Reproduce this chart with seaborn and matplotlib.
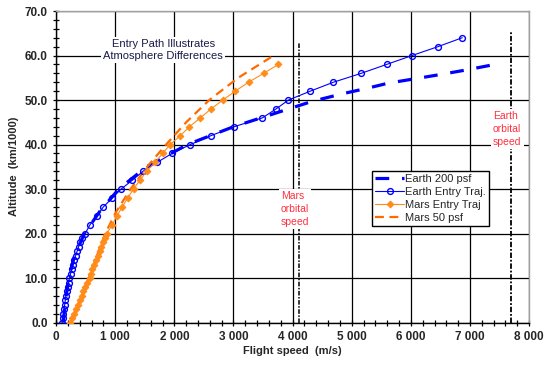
import matplotlib
matplotlib.use("Agg")
import matplotlib.pyplot as plt
import matplotlib.ticker as mticker
import seaborn as sns
import pandas as pd

# Earth entry trajectory (altitude km, speed m/s)
earth_traj_alt = list(range(0, 21)) + list(range(22, 65, 2))
earth_traj_speed = [100, 115, 125, 135, 145, 155, 165, 180, 195, 210, 225, 245, 265, 285,
                    305, 330, 355, 380, 410, 440, 490,
                    575, 690, 800, 950, 1100, 1290, 1470, 1710, 1960, 2270, 2620, 3010,
                    3490, 3720, 3930, 4300, 4690, 5160, 5590, 6020, 6460, 6870]

# Earth constant dynamic pressure 200 psf
earth_q_alt = [0, 5, 10, 15, 20, 25, 30, 35, 40, 44, 47.6, 49.7, 51.4, 52.7, 53.8, 54.9, 55.8, 56.8, 58.1]
earth_q_speed = [120, 160, 215, 310, 480, 740, 1060, 1530, 2220, 3000, 3840, 4330, 4840,
                 5280, 5620, 6125, 6530, 6955, 7460]

# Mars entry trajectory
mars_traj_alt = list(range(0, 21)) + list(range(22, 59, 2))
mars_traj_speed = [240, 270, 300, 335, 370, 400, 430, 460, 490, 520, 565, 590, 615, 645,
                   675, 705, 735, 765, 795, 825, 860,
                   950, 1030, 1120, 1210, 1310, 1420, 1530, 1675, 1800, 1930, 2100, 2255,
                   2440, 2620, 2820, 3030, 3255, 3510, 3760]

# Mars constant dynamic pressure 50 psf
mars_q_alt = [0, 5, 10, 15, 20, 25, 30, 35, 40, 45, 50, 55, 60]
mars_q_speed = [250, 400, 550, 690, 830, 1020, 1260, 1540, 1860, 2200, 2590, 3080, 3680]

mars_orbital = 4100
earth_orbital = 7700

sns.set_style("white")
plt.rcParams["font.family"] = ["Liberation Sans", "DejaVu Sans"]

fig = plt.figure(figsize=(5.5, 3.67), dpi=100)
ax = fig.add_axes([0.102, 0.121, 0.86, 0.849])

blue = "#0000FF"
orange = "#FF8C1A"
orange_dash = "#FF6A00"

df_eq = pd.DataFrame({"v": earth_q_speed, "h": earth_q_alt})
df_et = pd.DataFrame({"v": earth_traj_speed, "h": earth_traj_alt})
df_mt = pd.DataFrame({"v": mars_traj_speed, "h": mars_traj_alt})
df_mq = pd.DataFrame({"v": mars_q_speed, "h": mars_q_alt})

sns.lineplot(data=df_eq, x="v", y="h", sort=False, estimator=None, ax=ax, color=blue,
             lw=2.3, dashes=False, label="Earth 200 psf", zorder=3)
ax.lines[-1].set_dashes((4.3, 4))
sns.lineplot(data=df_et, x="v", y="h", sort=False, estimator=None, ax=ax, color=blue,
             lw=0.8, marker="o", markersize=4.2, markerfacecolor="none",
             markeredgecolor=blue, markeredgewidth=1.0, label="Earth Entry Traj.", zorder=4)
sns.lineplot(data=df_mt, x="v", y="h", sort=False, estimator=None, ax=ax, color=orange,
             lw=0.8, marker="D", markersize=3.4, markeredgecolor=orange,
             label="Mars Entry Traj", zorder=4)
sns.lineplot(data=df_mq, x="v", y="h", sort=False, estimator=None, ax=ax, color=orange_dash,
             lw=1.6, label="Mars 50 psf", zorder=3)
ax.lines[-1].set_dashes((4, 2.5))

# orbital speed markers
ax.plot([mars_orbital, mars_orbital], [0, 62.8], color="black", lw=1.1,
        linestyle=(0, (3, 1, 1, 1)), zorder=2)
ax.plot([earth_orbital, earth_orbital], [0, 65.3], color="black", lw=1.3,
        linestyle=(0, (3, 1, 1, 1)), zorder=2)

ax.text(3800, 25.5, "Mars\norbital\nspeed", color="#FF3040", fontsize=7.5,
        ha="left", va="center", linespacing=1.35, zorder=5,
        bbox=dict(facecolor="white", edgecolor="none", pad=1.5))
ax.text(7390, 43.5, "Earth\norbital\nspeed", color="#FF3040", fontsize=7.5,
        ha="left", va="center", linespacing=1.35, zorder=5,
        bbox=dict(facecolor="white", edgecolor="none", pad=1.5))
ax.text(1810, 61.3, "Entry Path Illustrates\nAtmosphere Differences", color="#1a1a4a",
        fontsize=8, ha="center", va="center", zorder=5,
        bbox=dict(facecolor="white", edgecolor="none", pad=1.5))

ax.set_xlim(0, 8000)
ax.set_ylim(0, 70)
ax.xaxis.set_major_locator(mticker.MultipleLocator(1000))
ax.xaxis.set_minor_locator(mticker.MultipleLocator(200))
ax.yaxis.set_major_locator(mticker.MultipleLocator(10))
ax.yaxis.set_minor_locator(mticker.MultipleLocator(2))
ax.xaxis.set_major_formatter(mticker.FuncFormatter(lambda v, p: f"{v:,.0f}".replace(",", " ")))
ax.yaxis.set_major_formatter(mticker.FormatStrFormatter("%.1f"))
ax.tick_params(which="both", direction="inout", length=5, width=0.9, color="black",
               left=True, bottom=True)
ax.tick_params(which="major", labelsize=8.5)
for lab in ax.get_xticklabels() + ax.get_yticklabels():
    lab.set_fontweight("bold")

ax.grid(True, which="major", color="black", lw=0.9)
ax.set_axisbelow(True)
for side in ["left", "bottom"]:
    ax.spines[side].set_color("black")
    ax.spines[side].set_linewidth(1.0)
for side in ["top", "right"]:
    ax.spines[side].set_color("#a0a0a0")
    ax.spines[side].set_linewidth(1.0)

ax.set_xlabel("Flight speed  (m/s)", fontsize=8, fontweight="bold", labelpad=2)
ax.set_ylabel("Altitude  (km/1000)", fontsize=8, fontweight="bold", labelpad=4)

leg = ax.legend(loc="upper left", bbox_to_anchor=(0.668, 0.487), fontsize=8,
                frameon=True, fancybox=False, edgecolor="black", framealpha=1,
                borderpad=0.3, labelspacing=0.25, handlelength=2.6, handletextpad=0.1,
                borderaxespad=0)
leg.get_frame().set_linewidth(1.0)
leg.set_zorder(6)

fig.savefig("out.png", dpi=100)
